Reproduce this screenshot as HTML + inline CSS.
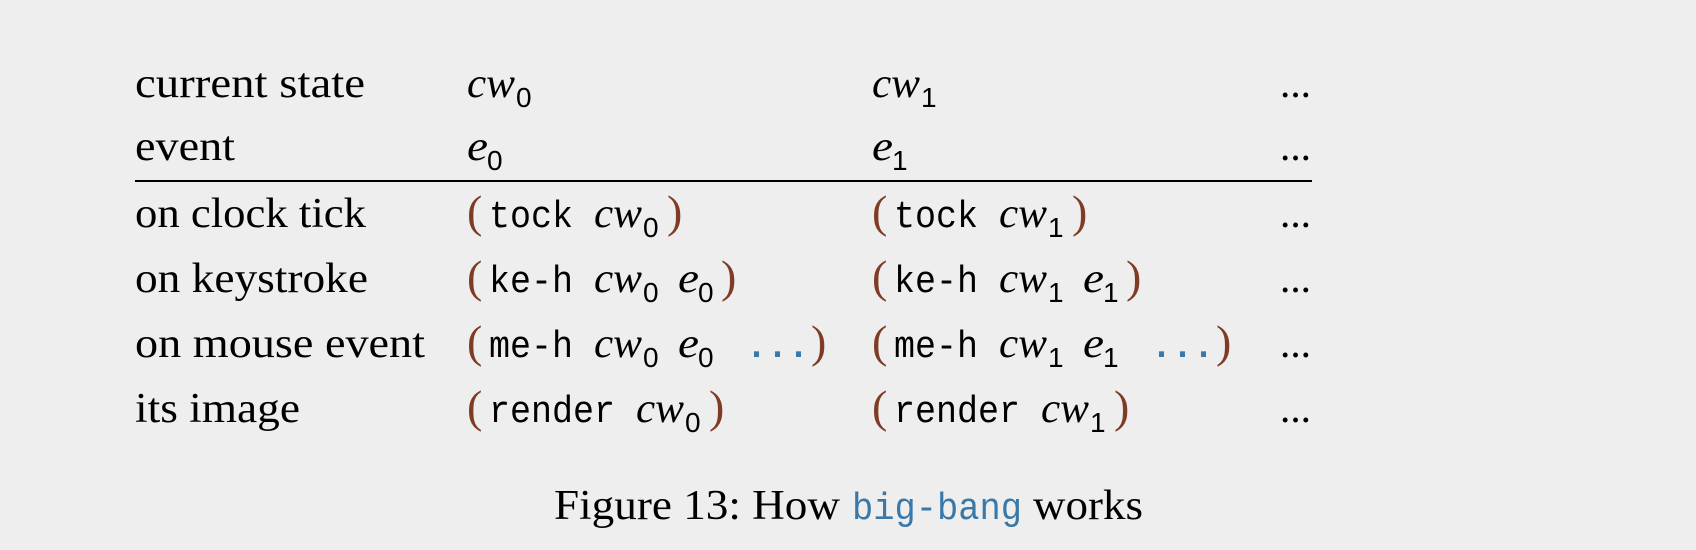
<!DOCTYPE html>
<html><head><meta charset="utf-8"><style>
html,body{margin:0;padding:0;background:#eeeeee;}
svg{display:block}
.s{font-family:"Liberation Serif",serif;font-size:42px;fill:#000}
.i{font-family:"Liberation Serif",serif;font-style:italic;font-size:42px;fill:#000}
.sub{font-family:"Liberation Sans",sans-serif;font-size:28px;fill:#000}
.m{font-family:"Liberation Mono",monospace;font-size:38px;fill:#000}
.p{font-family:"Liberation Serif",serif;font-size:46px;fill:#7f3c24}
.b{font-family:"Liberation Mono",monospace;font-size:38px;fill:#3a78a8;font-weight:bold}
.c{font-family:"Liberation Mono",monospace;font-size:38px;fill:#3a78a8}
</style></head><body>
<svg width="1696" height="550" viewBox="0 0 1696 550">
<rect width="1696" height="550" fill="#eeeeee"/>
<text class="s" x="135" y="97" textLength="230" lengthAdjust="spacingAndGlyphs">current state</text>
<text class="s" x="135" y="160" textLength="100" lengthAdjust="spacingAndGlyphs">event</text>
<text class="s" x="135" y="227" textLength="231" lengthAdjust="spacingAndGlyphs">on clock tick</text>
<text class="s" x="135" y="292" textLength="233" lengthAdjust="spacingAndGlyphs">on keystroke</text>
<text class="s" x="135" y="357" textLength="290" lengthAdjust="spacingAndGlyphs">on mouse event</text>
<text class="s" x="135" y="422" textLength="165" lengthAdjust="spacingAndGlyphs">its image</text>
<line x1="135" y1="181" x2="1312" y2="181" stroke="#000" stroke-width="2"/>
<text class="s" x="1280" y="97" textLength="31" lengthAdjust="spacingAndGlyphs">...</text>
<text class="s" x="1280" y="160" textLength="31" lengthAdjust="spacingAndGlyphs">...</text>
<text class="s" x="1280" y="227" textLength="31" lengthAdjust="spacingAndGlyphs">...</text>
<text class="s" x="1280" y="292" textLength="31" lengthAdjust="spacingAndGlyphs">...</text>
<text class="s" x="1280" y="357" textLength="31" lengthAdjust="spacingAndGlyphs">...</text>
<text class="s" x="1280" y="422" textLength="31" lengthAdjust="spacingAndGlyphs">...</text>

<g>
<text class="i" x="467" y="97" textLength="48" lengthAdjust="spacingAndGlyphs">cw</text><text class="sub" x="516" y="107">0</text>
<text class="i" x="467" y="160" textLength="21" lengthAdjust="spacingAndGlyphs">e</text><text class="sub" x="487" y="170">0</text>

<text class="p" x="467" y="227">(</text>
<text class="m" x="489" y="227" textLength="84" lengthAdjust="spacingAndGlyphs">tock</text>
<text class="i" x="594" y="227" textLength="48" lengthAdjust="spacingAndGlyphs">cw</text><text class="sub" x="643" y="237">0</text>
<text class="p" x="667" y="227">)</text>

<text class="p" x="467" y="292">(</text>
<text class="m" x="489" y="292" textLength="84" lengthAdjust="spacingAndGlyphs">ke-h</text>
<text class="i" x="594" y="292" textLength="48" lengthAdjust="spacingAndGlyphs">cw</text><text class="sub" x="643" y="302">0</text>
<text class="i" x="678" y="292" textLength="21" lengthAdjust="spacingAndGlyphs">e</text><text class="sub" x="698" y="302">0</text>
<text class="p" x="721" y="292">)</text>

<text class="p" x="467" y="357">(</text>
<text class="m" x="489" y="357" textLength="84" lengthAdjust="spacingAndGlyphs">me-h</text>
<text class="i" x="594" y="357" textLength="48" lengthAdjust="spacingAndGlyphs">cw</text><text class="sub" x="643" y="367">0</text>
<text class="i" x="678" y="357" textLength="21" lengthAdjust="spacingAndGlyphs">e</text><text class="sub" x="698" y="367">0</text>
<text class="b" x="746" y="357" textLength="63" lengthAdjust="spacingAndGlyphs">...</text>
<text class="p" x="811" y="357">)</text>

<text class="p" x="467" y="422">(</text>
<text class="m" x="489" y="422" textLength="126" lengthAdjust="spacingAndGlyphs">render</text>
<text class="i" x="636" y="422" textLength="48" lengthAdjust="spacingAndGlyphs">cw</text><text class="sub" x="685" y="432">0</text>
<text class="p" x="709" y="422">)</text>
</g>

<g transform="translate(405,0)">
<text class="i" x="467" y="97" textLength="48" lengthAdjust="spacingAndGlyphs">cw</text><text class="sub" x="516" y="107">1</text>
<text class="i" x="467" y="160" textLength="21" lengthAdjust="spacingAndGlyphs">e</text><text class="sub" x="487" y="170">1</text>

<text class="p" x="467" y="227">(</text>
<text class="m" x="489" y="227" textLength="84" lengthAdjust="spacingAndGlyphs">tock</text>
<text class="i" x="594" y="227" textLength="48" lengthAdjust="spacingAndGlyphs">cw</text><text class="sub" x="643" y="237">1</text>
<text class="p" x="667" y="227">)</text>

<text class="p" x="467" y="292">(</text>
<text class="m" x="489" y="292" textLength="84" lengthAdjust="spacingAndGlyphs">ke-h</text>
<text class="i" x="594" y="292" textLength="48" lengthAdjust="spacingAndGlyphs">cw</text><text class="sub" x="643" y="302">1</text>
<text class="i" x="678" y="292" textLength="21" lengthAdjust="spacingAndGlyphs">e</text><text class="sub" x="698" y="302">1</text>
<text class="p" x="721" y="292">)</text>

<text class="p" x="467" y="357">(</text>
<text class="m" x="489" y="357" textLength="84" lengthAdjust="spacingAndGlyphs">me-h</text>
<text class="i" x="594" y="357" textLength="48" lengthAdjust="spacingAndGlyphs">cw</text><text class="sub" x="643" y="367">1</text>
<text class="i" x="678" y="357" textLength="21" lengthAdjust="spacingAndGlyphs">e</text><text class="sub" x="698" y="367">1</text>
<text class="b" x="746" y="357" textLength="63" lengthAdjust="spacingAndGlyphs">...</text>
<text class="p" x="811" y="357">)</text>

<text class="p" x="467" y="422">(</text>
<text class="m" x="489" y="422" textLength="126" lengthAdjust="spacingAndGlyphs">render</text>
<text class="i" x="636" y="422" textLength="48" lengthAdjust="spacingAndGlyphs">cw</text><text class="sub" x="685" y="432">1</text>
<text class="p" x="709" y="422">)</text>
</g>

<text class="s" x="554" y="519" textLength="286" lengthAdjust="spacingAndGlyphs">Figure 13: How</text>
<text class="c" x="852" y="519" textLength="170" lengthAdjust="spacingAndGlyphs">big-bang</text>
<text class="s" x="1033" y="519" textLength="110" lengthAdjust="spacingAndGlyphs">works</text>
</svg>
</body></html>
